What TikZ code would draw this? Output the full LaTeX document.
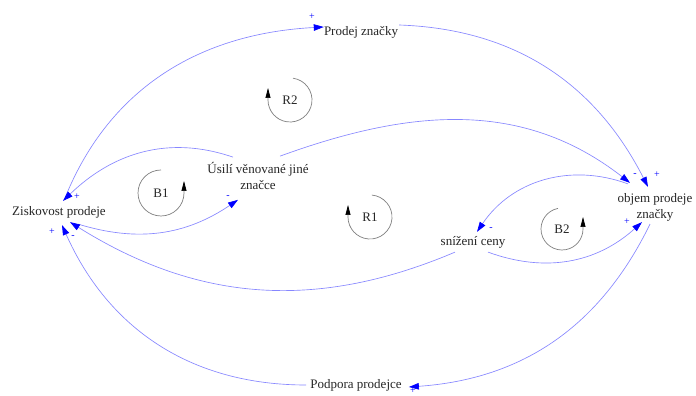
\documentclass[tikz,border=0pt]{standalone}
\usepackage{fontspec}
\setmainfont{Liberation Serif}
\usetikzlibrary{arrows.meta}
\definecolor{linkblue}{RGB}{135,135,255}
\definecolor{tipblue}{RGB}{0,0,255}

\begin{document}
\begin{tikzpicture}[
  x=1pt, y=1pt,
  var/.style={
    align=center,
    inner sep=1pt,
    text=black!85,
    font=\fontsize{13}{16}\selectfont
  },
  link/.style={
    draw=linkblue,
    line width=0.65pt,
    -{Triangle[length=10pt,width=6.5pt,color=tipblue]}
  },
  sign/.style={
    inner sep=0pt,
    text=tipblue,
    font=\fontsize{10}{11}\selectfont
  },
  looparc/.style={
    draw=black!50,
    line width=0.7pt,
    -{Triangle[length=10pt,width=5pt,color=black]}
  }
]
\fill[white] (0,0) rectangle (696,396);
\useasboundingbox (0,0) rectangle (696,396);

% Variables
\node[var] (zisk) at (59,184) {Ziskovost prodeje};
\node[var] (prodej) at (361,364) {Prodej značky};
\node[var] (usili) at (258,220) {Úsilí věnované jiné\\značce};
\node[var] (objem) at (655,189) {objem prodeje\\značky};
\node[var] (snizeni) at (473,154) {snížení ceny};
\node[var] (podpora) at (356,11) {Podpora prodejce};

% Causal links
\draw[link] ([xshift=6,yshift=7]zisk.north) to[out=68,in=183] ([xshift=1,yshift=5]prodej.west);
\draw[link] ([xshift=-25,yshift=4]usili.north) to[out=161,in=44] ([xshift=4,yshift=4]zisk.north);
\draw[link] ([xshift=19,yshift=-5]zisk.south) to[out=343,in=214] ([xshift=-20,yshift=-9]usili.south);
\draw[link] ([xshift=22,yshift=5]usili.north) to[out=20,in=142] ([xshift=-25,yshift=9]objem.north);
\draw[link] ([yshift=7]prodej.east) to[out=358,in=117] ([xshift=-7,yshift=5]objem.north);
\draw[link] ([xshift=-27,yshift=8]objem.north) to[out=160,in=56] ([xshift=4,yshift=3]snizeni.north);
\draw[link] ([xshift=15,yshift=-3]snizeni.south) to[out=340,in=222] ([xshift=-13]objem.south);
\draw[link] ([xshift=-18,yshift=-3]snizeni.south) to[out=203,in=328] ([xshift=11,yshift=-3]zisk.south);
\draw[link] ([xshift=-5,yshift=-2]objem.south) to[out=244,in=4] ([xshift=6,yshift=-2]podpora.east);
\draw[link] ([xshift=-3]podpora.west) to[out=180,in=294] ([xshift=3,yshift=-6]zisk.south);

% Link polarities
\node[sign] (sgn1) at (312,379) {+};
\node[sign] (sgn2) at (77,199) {+};
\node[sign] (sgn3) at (228,199) {-};
\node[sign] (sgn4) at (635,221) {-};
\node[sign] (sgn5) at (657,221) {+};
\node[sign] (sgn6) at (491,167) {-};
\node[sign] (sgn7) at (627,174) {+};
\node[sign] (sgn8) at (73,159) {-};
\node[sign] (sgn9) at (413,5) {+};
\node[sign] (sgn10) at (52,164) {+};

% Loop markers (arc, then a short upward stroke for the tip)
\node[var] (r2) at (290,296) {R2};
\draw[looparc] ([shift={(82:22)}]r2.center) arc[start angle=82, end angle=-180, radius=22] -- ++(0,12);
\node[var] (b1) at (161,203) {B1};
\draw[looparc] ([shift={(90:23)}]b1.center) arc[start angle=90, end angle=360, radius=23] -- ++(0,12);
\node[var] (r1) at (370,179) {R1};
\draw[looparc] ([shift={(85:22)}]r1.center) arc[start angle=85, end angle=-180, radius=22] -- ++(0,12);
\node[var] (b2) at (562,167) {B2};
\draw[looparc] ([shift={(101:21)}]b2.center) arc[start angle=101, end angle=360, radius=21] -- ++(0,12);

\end{tikzpicture}
\end{document}
